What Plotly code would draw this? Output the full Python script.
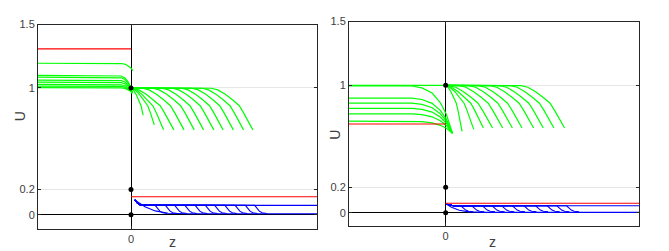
import numpy as np
import plotly.graph_objects as go

# ---------------- data ----------------
Z_RANGE = [-1.0, 2.0]
Y_TICKS = [0, 0.2, 1, 1.5]
Y_TICK_TEXT = ["0", "0.2", "1", "1.5"]
X_TICKS = [0]
X_TICK_TEXT = ["0"]
DOTS_U = [0, 0.2, 1]

# template of a green front (offset from curve end, U)
DROP_DZ = [-0.45, -0.38, -0.30, -0.22, -0.15, -0.10, -0.05, 0.0, 0.03]
DROP_U = [0.998, 0.985, 0.95, 0.905, 0.86, 0.80, 0.73, 0.665, 0.615]
# template of a bend of the z<0 green curves (fraction of bend width, fraction of drop)
BEND_T = [-1.0, -0.75, -0.5, -0.3, -0.15, 0.0]
BEND_F = [0.0, 0.04, 0.15, 0.35, 0.6, 1.0]
# template of a blue front drop (offset, fraction of plateau above tail)
BLUE_DROP_DZ = [0.0, 0.025, 0.05, 0.08, 0.13]
BLUE_DROP_FRAC = [1.0, 0.6, 0.28, 0.08, 0.0]

# left panel
A_RED_LEFT = 1.308
A_RED_RIGHT = 0.143
A_LEFT_LEVELS = [1.195, 1.10, 1.085, 1.062, 1.046, 1.028, 1.015, 1.003]
A_LEFT_END_Z = [0.02, 0.015, 0.015, 0.015, 0.015, 0.015, 0.015, 0.015]
A_LEFT_END_U = [1.136, 0.96, 0.96, 0.96, 0.96, 0.96, 0.96, 0.96]
A_BEND_WIDTH = 0.16
A_FRONT_END_Z = [0.13, 0.25, 0.35, 0.46, 0.57, 0.68, 0.78, 0.89, 0.99, 1.10, 1.21, 1.31]
A_FRONT_END_U = [0.785, 0.71, 0.67, 0.67, 0.67, 0.67, 0.67, 0.67, 0.67, 0.67, 0.67, 0.67]
A_BLUE_FRONTS = [0.26, 0.37, 0.47, 0.58, 0.69, 0.80, 0.90, 1.01, 1.12, 1.23, 1.33]
A_BLUE_PLATEAU = 0.075
A_BLUE_TAIL = 0.011
A_BLUE_HEAD_Z = [0.04, 0.07, 0.10, 0.13]
A_BLUE_HEAD_U = [0.118, 0.092, 0.078, 0.075]
A_BLUE_DECAY_Z = [0.04, 0.15, 0.26, 0.40, 0.60, 2.0]
A_BLUE_DECAY_U = [0.118, 0.064, 0.031, 0.013, 0.009, 0.009]

# right panel
B_RED_LEFT = 0.697
B_RED_RIGHT = 0.076
B_TOP_LEVEL = 1.0
B_LEFT_LEVELS = [0.995, 0.90, 0.86, 0.82, 0.776, 0.72]
B_LEFT_END_Z = [0.07, 0.07, 0.07, 0.07, 0.07, 0.07]
B_LEFT_END_U = [0.625, 0.625, 0.625, 0.625, 0.625, 0.625]
B_BEND_WIDTH = 0.42
B_FRONT_END_Z = [0.17, 0.29, 0.39, 0.485, 0.59, 0.69, 0.79, 0.91, 1.01, 1.12, 1.23]
B_FRONT_END_U = [0.64, 0.655, 0.665, 0.665, 0.665, 0.665, 0.665, 0.665, 0.665, 0.665, 0.665]
B_BLUE_FRONTS = [0.157, 0.27, 0.38, 0.48, 0.58, 0.69, 0.81, 0.93, 1.05, 1.15, 1.25]
B_BLUE_PLATEAU = 0.056
B_BLUE_TAIL = 0.009
B_BLUE_HEAD_Z = [0.01, 0.04, 0.08]
B_BLUE_HEAD_U = [0.067, 0.060, 0.056]
B_BLUE_DECAY_Z = [0.01, 0.06, 0.14, 0.24, 0.40, 2.0]
B_BLUE_DECAY_U = [0.067, 0.045, 0.020, 0.008, 0.004, 0.004]

GREEN = "#00ff00"
BLUE = "#0000ff"
RED = "#ff0000"


# ---------------- helpers ----------------
def drop_curve(e, u_end, z0=0.0):
    dz = np.array(DROP_DZ)
    u = np.array(DROP_U)
    dz_end = np.interp(u_end, u[::-1], dz[::-1])
    keep = u > u_end
    d = np.append(dz[keep], dz_end) - dz_end
    uu = np.append(u[keep], u_end)
    s = min(1.0, (e - z0) / (-d[0]))
    z = list(e + d * s)
    uu = list(uu)
    if z[0] > z0 + 1e-9:
        z = [z0] + z
        uu = [1.0] + uu
    return z, uu


def bend_curve(level, e, u_e, width):
    t = np.array(BEND_T)
    f = np.array(BEND_F)
    z = [Z_RANGE[0]] + list(e + t * width)
    u = [level] + list(level + (u_e - level) * f)
    return z, u


def blue_front(front, plateau, tail, head_z, head_u):
    z = list(head_z) + [front] + [front + d for d in BLUE_DROP_DZ[1:]]
    u = list(head_u) + [plateau] + [tail + (plateau - tail) * f for f in BLUE_DROP_FRAC[1:]]
    return z, u


def join(curves):
    X, Y = [], []
    for z, u in curves:
        X += list(z) + [None]
        Y += list(u) + [None]
    return X, Y


def panel(fig, idx, red_left, red_right, left_levels, left_end_z, left_end_u, bend_w,
          front_end_z, front_end_u, blue_fronts, plateau, tail, head_z, head_u,
          decay_z, decay_u, top_level=None):
    xa = "x" if idx == 1 else "x2"
    ya = "y" if idx == 1 else "y2"
    blues = [blue_front(f, plateau, tail, head_z, head_u) for f in blue_fronts]
    blues.append((list(head_z) + [Z_RANGE[1]], list(head_u) + [plateau]))
    blues.append((decay_z, decay_u))
    X, Y = join(blues)
    fig.add_trace(go.Scatter(x=X, y=Y, mode="lines", line=dict(color=BLUE, width=1.1),
                             xaxis=xa, yaxis=ya, showlegend=False, hoverinfo="skip"))
    greens = [bend_curve(l, ez, eu, bend_w) for l, ez, eu in zip(left_levels, left_end_z, left_end_u)]
    greens += [drop_curve(e, u) for e, u in zip(front_end_z, front_end_u)]
    if top_level is not None:
        greens.append(([Z_RANGE[0], 0.0], [top_level, top_level]))
    X, Y = join(greens)
    fig.add_trace(go.Scatter(x=X, y=Y, mode="lines", line=dict(color=GREEN, width=1.2),
                             xaxis=xa, yaxis=ya, showlegend=False, hoverinfo="skip"))
    X, Y = join([([Z_RANGE[0], 0.0], [red_left, red_left]),
                 ([0.0, Z_RANGE[1]], [red_right, red_right])])
    fig.add_trace(go.Scatter(x=X, y=Y, mode="lines", line=dict(color=RED, width=1.1),
                             xaxis=xa, yaxis=ya, showlegend=False, hoverinfo="skip"))
    fig.add_trace(go.Scatter(x=[0] * len(DOTS_U), y=DOTS_U, mode="markers",
                             marker=dict(color="black", size=5),
                             xaxis=xa, yaxis=ya, showlegend=False, hoverinfo="skip"))


fig = go.Figure()
panel(fig, 1, A_RED_LEFT, A_RED_RIGHT, A_LEFT_LEVELS, A_LEFT_END_Z, A_LEFT_END_U, A_BEND_WIDTH,
      A_FRONT_END_Z, A_FRONT_END_U, A_BLUE_FRONTS, A_BLUE_PLATEAU, A_BLUE_TAIL,
      A_BLUE_HEAD_Z, A_BLUE_HEAD_U, A_BLUE_DECAY_Z, A_BLUE_DECAY_U)
panel(fig, 2, B_RED_LEFT, B_RED_RIGHT, B_LEFT_LEVELS, B_LEFT_END_Z, B_LEFT_END_U, B_BEND_WIDTH,
      B_FRONT_END_Z, B_FRONT_END_U, B_BLUE_FRONTS, B_BLUE_PLATEAU, B_BLUE_TAIL,
      B_BLUE_HEAD_Z, B_BLUE_HEAD_U, B_BLUE_DECAY_Z, B_BLUE_DECAY_U, top_level=B_TOP_LEVEL)

W, H = 669, 251
AXC = "#262626"
TXC = "#404040"
tickfont = dict(family="Liberation Sans, Arial, sans-serif", size=11, color=TXC)


def xaxis(domain, anchor):
    return dict(domain=domain, range=Z_RANGE, tickvals=X_TICKS, ticktext=X_TICK_TEXT,
                ticks="inside", ticklen=3, tickcolor=AXC, showline=True, linecolor=AXC,
                linewidth=1, mirror="ticks", showgrid=False, zeroline=True,
                zerolinecolor="#000000", zerolinewidth=1, tickfont=tickfont,
                fixedrange=True, anchor=anchor)


def yaxis(domain, rng, anchor):
    return dict(domain=domain, range=rng, tickvals=Y_TICKS, ticktext=Y_TICK_TEXT,
                ticks="inside", ticklen=3, tickcolor=AXC, showline=True, linecolor=AXC,
                linewidth=1, mirror="ticks", showgrid=True, gridcolor="#e6e6e6",
                gridwidth=1, zeroline=True, zerolinecolor="#000000", zerolinewidth=1,
                tickfont=tickfont, fixedrange=True, anchor=anchor)


fig.update_layout(
    width=W, height=H,
    margin=dict(l=0, r=0, t=0, b=0),
    paper_bgcolor="white", plot_bgcolor="white",
    xaxis=xaxis([38 / W, 317 / W], "y"),
    yaxis=yaxis([1 - 228 / H, 1 - 19 / H], [-0.108, 1.5], "x"),
    xaxis2=xaxis([349 / W, 639 / W], "y2"),
    yaxis2=yaxis([1 - 225 / H, 1 - 16 / H], [-0.1, 1.5], "x2"),
)

labfont = dict(family="Liberation Sans, Arial, sans-serif", size=14, color=TXC)
for (x, y, t, ang) in [(20, 113, "U", -90), (172, 242, "z", 0), (335, 132, "U", -90), (492, 242, "z", 0)]:
    fig.add_annotation(x=x / W, y=1 - y / H, xref="paper", yref="paper", text=t,
                       showarrow=False, textangle=ang, font=labfont,
                       xanchor="center", yanchor="middle")

fig.write_html(
    "out.html",
    config={"displayModeBar": False, "staticPlot": True},
    post_script="document.body.style.margin='0px';document.body.style.padding='0px';"
                "document.body.style.overflow='hidden';",
)
